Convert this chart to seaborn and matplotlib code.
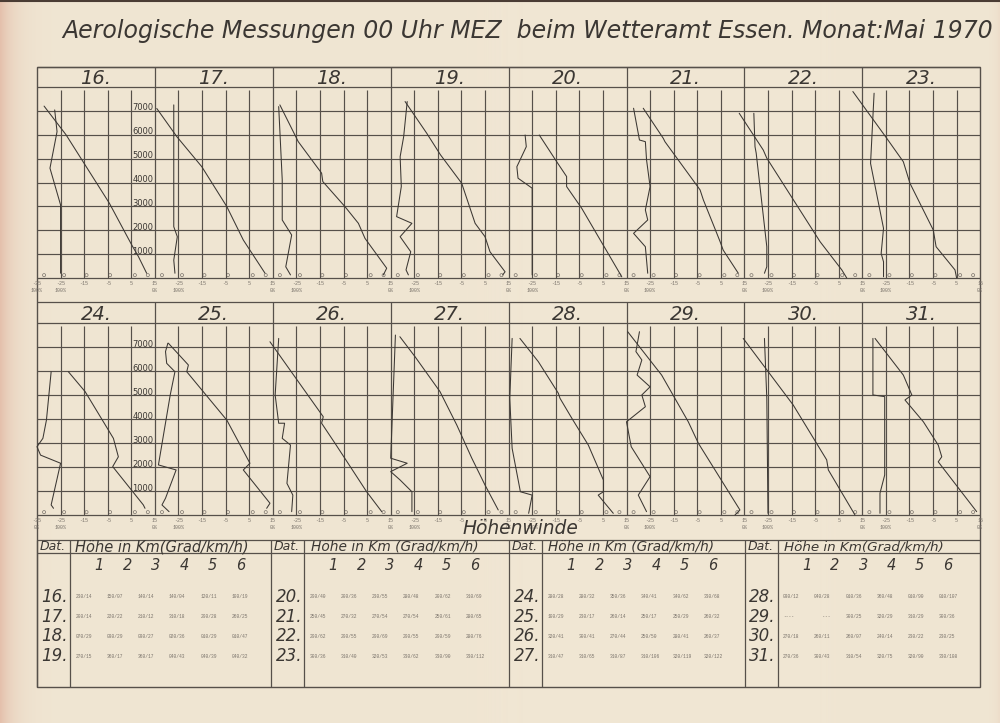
import numpy as np
import pandas as pd
import matplotlib
matplotlib.use("Agg")
import matplotlib.pyplot as plt
import seaborn as sns

# ---------------- data ----------------
TITLE = "Aerologische Messungen 00 Uhr MEZ  beim Wetteramt Essen. Monat:Mai 1970"
DAYS = list(range(16, 32))

# temperature profiles (deg C) and their heights (m), surface -> top
temp_16 = [11.5, 8.0, 5.2, -4.3, -22.7, -32.0]
temp_h_16 = [200, 900, 1380, 3130, 6000, 7200]
temp_17 = [11.7, 2.5, -4.5, -15.1, -25.7, -34.2]
temp_h_17 = [200, 1590, 2990, 4660, 5920, 7100]
temp_18 = [11.9, 13.3, 4.1, 1.3, -4.4, -13.8, -14.3, -24.2, -32.0]
temp_h_18 = [130, 410, 1660, 2290, 2990, 4040, 4390, 5710, 7250]
temp_19 = [12.5, 13.5, 7.1, 5.0, 0.8, -4.9, -13.9, -19.7, -28.9]
temp_h_19 = [130, 260, 1100, 1730, 2290, 3970, 5160, 6060, 7390]
temp_20 = [13.0, -4.0, -10.4, -10.4, -14.6, -22.0]
temp_h_20 = [50, 2920, 3830, 4250, 4870, 5990]
temp_21 = [12.4, 6.0, 4.7, 3.3, -2.4, -3.8, -18.7, -19.4, -27.9]
temp_h_21 = [200, 1170, 1520, 1870, 3270, 3690, 5710, 5850, 7110]
temp_22 = [8.4, 6.3, -2.9, -25.5, -27.0, -37.2]
temp_h_22 = [0, 340, 1520, 5020, 5360, 6900]
temp_23 = [5.0, 4.3, -3.7, -4.9, -14.8, -17.6, -24.7, -39.0]
temp_h_23 = [0, 340, 1310, 2010, 3970, 4870, 5860, 7810]
temp_24 = [10.8, 10.1, -2.9, -0.5, -2.6, -14.6, -21.7]
temp_h_24 = [280, 420, 2020, 2430, 3200, 5150, 5980]
temp_25 = [12.4, 13.8, 2.5, 5.3, -4.5, -21.5, -20.8, -29.3]
temp_h_25 = [280, 490, 1880, 2160, 3960, 5980, 6260, 7170]
temp_26 = [11.2, 4.8, -8.6, -14.3, -13.6, -36.2]
temp_h_26 = [140, 970, 2990, 3830, 4100, 7230]
temp_27 = [10.6, 5.0, 2.2, -0.6, -7.0, -14.1, -24.7, -31.1]
temp_h_27 = [210, 1250, 1810, 2370, 3760, 5150, 6610, 7440]
temp_28 = [9.4, 3.0, 5.2, 5.2, -1.2, -8.2, -13.2, -13.9, -22.4, -30.2]
temp_h_28 = [70, 830, 970, 1460, 2920, 4040, 4870, 5080, 6400, 7370]
temp_29 = [11.0, 13.1, -4.5, -8.8, -20.1, -34.5]
temp_h_29 = [0, 210, 2990, 3890, 5840, 7650]
temp_30 = [11.9, 0.6, -0.1, -14.3, -35.5]
temp_h_30 = [0, 1880, 2300, 4590, 7370]
temp_31 = [13.5, -2.8, -1.3, -2.8, -9.1, -16.9, -14.0, -17.6, -29.6]
temp_h_31 = [140, 2220, 2430, 2920, 3890, 4800, 5010, 5840, 7370]

# relative humidity profiles (%) and heights (m)
rh_16 = [80, 80, 89, 83, 85]
rh_h_16 = [200, 3060, 4600, 6130, 7040]
rh_17 = [83, 84, 81, 84, 84]
rh_h_17 = [200, 750, 1730, 2150, 7250]
rh_18 = [85, 89, 84, 92, 92, 95]
rh_h_18 = [130, 470, 1800, 2430, 4110, 7180]
rh_19 = [85, 87, 83, 92, 82, 95, 91, 92, 89, 86]
rh_h_19 = [130, 340, 1100, 1730, 2290, 2570, 3830, 5080, 5920, 7390]
rh_20 = [80, 80, 92, 93, 85, 86]
rh_h_20 = [130, 3760, 4180, 4660, 5500, 5990]
rh_21 = [82, 84, 94, 82, 84, 80, 83, 84, 89, 94]
rh_h_21 = [200, 1310, 1870, 2430, 2850, 3830, 4950, 5710, 5780, 7110]
rh_22 = [83, 81, 81, 90, 91, 92]
rh_h_22 = [200, 470, 1310, 5230, 5500, 6900]
rh_23 = [82, 82, 84, 82, 93, 90]
rh_h_23 = [50, 680, 1030, 2080, 4800, 7740]
rh_24 = [86, 88, 80, 97, 100, 95, 92, 88]
rh_h_24 = [280, 420, 2160, 2500, 2850, 3200, 3960, 5980]
rh_25 = [88, 94, 91, 82, 97, 87, 83, 90, 91, 89]
rh_h_25 = [140, 420, 700, 1880, 2090, 5010, 5980, 6330, 6820, 7170]
rh_26 = [84, 83, 88, 85, 92, 90, 95, 98, 95]
rh_h_26 = [140, 830, 1320, 2920, 3200, 3830, 3830, 5010, 7370]
rh_27 = [82, 82, 92, 100, 86, 100, 96]
rh_h_27 = [140, 970, 1460, 1810, 2160, 2370, 7510]
rh_28 = [83, 80, 90, 97, 99, 97]
rh_h_28 = [70, 830, 970, 2780, 4870, 7370]
rh_29 = [83, 90, 80, 96, 100, 84, 87, 80, 91, 87, 92, 89]
rh_h_29 = [140, 830, 1600, 2850, 3890, 4520, 5010, 5350, 5840, 6470, 6820, 7650]
rh_30 = [80, 81, 83]
rh_h_30 = [70, 4870, 7370]
rh_31 = [85, 85, 81, 81, 91, 91]
rh_h_31 = [70, 910, 1670, 4940, 5010, 7370]

# upper winds (direction / km/h) at 1..6 km
wind_16 = ["230/14", "150/07", "140/14", "140/04", "120/11", "100/19"]
wind_17 = ["200/14", "220/22", "210/12", "310/18", "290/28", "260/25"]
wind_18 = ["070/29", "030/29", "030/27", "020/36", "010/29", "010/47"]
wind_19 = ["270/15", "360/17", "360/17", "040/43", "040/39", "040/32"]
wind_20 = ["290/40", "200/36", "230/55", "280/48", "200/62", "310/69"]
wind_21 = ["250/45", "270/32", "270/54", "270/54", "250/61", "280/65"]
wind_22 = ["290/62", "290/55", "290/69", "290/55", "290/59", "280/76"]
wind_23 = ["300/36", "310/40", "320/53", "330/62", "330/90", "330/112"]
wind_24 = ["280/28", "280/32", "350/36", "340/41", "340/62", "330/68"]
wind_25 = ["100/29", "230/17", "260/14", "250/17", "250/29", "260/32"]
wind_26 = ["320/41", "300/41", "270/44", "250/50", "280/41", "260/37"]
wind_27 = ["310/47", "310/65", "310/87", "310/106", "320/119", "320/122"]
wind_28 = ["030/12", "040/28", "010/36", "360/48", "010/90", "010/107"]
wind_29 = ["----", "   ---", "300/25", "320/29", "310/29", "300/36"]
wind_30 = ["270/18", "260/11", "260/07", "240/14", "230/22", "230/25"]
wind_31 = ["270/36", "300/43", "310/54", "320/75", "320/90", "330/108"]

TEMP_TICKS = [-35, -25, -15, -5, 5, 15]
HEIGHT_TICKS = [1000, 2000, 3000, 4000, 5000, 6000, 7000]
ZERO_MARKS = [-32, -23.5, -14, -4, 6.5, 12]
ZERO_MARK_H = 120
LEVELS = ["1", "2", "3", "4", "5", "6"]

G = globals()
temps = {d: (G[f"temp_{d}"], G[f"temp_h_{d}"]) for d in DAYS}
hums = {d: (G[f"rh_{d}"], G[f"rh_h_{d}"]) for d in DAYS}
winds = {d: G[f"wind_{d}"] for d in DAYS}

# ---------------- style ----------------
W, H = 1000, 723
PAPER = "#f0e6d3"
LINE = "#56504a"
INK = "#3b3733"
TYPE = "#7a736b"
IT = dict(style="italic", family="DejaVu Sans", color=INK)

sns.set_theme(style="white")
plt.rcParams["font.family"] = ["DejaVu Sans"]

fig = plt.figure(figsize=(10, 7.23), dpi=100, facecolor=PAPER)
bg = fig.add_axes([0, 0, 1, 1])
bg.set_xlim(0, W)
bg.set_ylim(H, 0)
bg.axis("off")

# paper tint (pinkish left edge)
xs = np.arange(W)
wl = np.exp(-xs / 14.0) * 0.9
wr = np.exp(-(W - xs) / 5.0) * 0.25
w = np.clip(wl + wr, 0, 1)
c_pap = np.array(matplotlib.colors.to_rgb(PAPER))
c_pink = np.array(matplotlib.colors.to_rgb("#e3bca8"))
row = (1 - w)[:, None] * c_pap + w[:, None] * c_pink
bg.imshow(row[None, :, :], extent=[0, W, H, 0], aspect="auto", zorder=0)
bg.plot([0, W], [0.6, 0.6], color="#4a3c34", lw=1.5, zorder=1)

fig.canvas.draw()
renderer = fig.canvas.get_renderer()


def fit(t, width):
    bb = t.get_window_extent(renderer)
    t.set_fontsize(t.get_fontsize() * width / bb.width)


def hline(y, x0, x1, lw=0.9):
    bg.plot([x0, x1], [y, y], color=LINE, lw=lw, solid_capstyle="butt", zorder=2)


def vline(x, y0, y1, lw=0.9):
    bg.plot([x, x], [y0, y1], color=LINE, lw=lw, solid_capstyle="butt", zorder=2)


# title
t = bg.text(528, 31, TITLE, ha="center", va="center", fontsize=17, zorder=3, **IT)
fit(t, 933)

# frame geometry
X0, PW = 37.0, 117.9
X1 = X0 + 8 * PW
ROW_BOTTOM = [278.0, 515.0]
PX_KM = [23.875, 23.96]
HEAD_TOP = [67.0, 302.0]

bg.add_patch(plt.Rectangle((X0, 67), X1 - X0, 687 - 67, fill=False,
                           edgecolor=LINE, lw=1.0, zorder=2))
for r in range(2):
    yb = ROW_BOTTOM[r]
    ytop8 = yb - 8 * PX_KM[r]
    hline(HEAD_TOP[r], X0, X1)
    hline(ytop8, X0, X1)
    hline(yb, X0, X1)
    for c in range(1, 8):
        vline(X0 + c * PW, HEAD_TOP[r], yb)

# table lines
hline(540, X0, X1)
hline(553, X0, X1)
BLOCK_X = [37.0, 271.0, 509.0, 744.5]
for bx in BLOCK_X:
    vline(bx, 540, 687)
    vline(bx + 33, 540, 687)

# panels
for i, day in enumerate(DAYS):
    r, c = divmod(i, 8)
    x0 = X0 + c * PW
    yb = ROW_BOTTOM[r]
    yt = yb - 8 * PX_KM[r]
    ax = fig.add_axes([x0 / W, 1 - yb / H, PW / W, (yb - yt) / H])
    ax.set_xlim(-35, 15)
    ax.set_ylim(0, 8000)
    ax.patch.set_alpha(0)
    ax.axis("off")
    ax.hlines(HEIGHT_TICKS, -35, 15, color=LINE, lw=0.85)
    ax.vlines(TEMP_TICKS[1:-1], 0, 7880, color=LINE, lw=0.85)

    tv, th = temps[day]
    dft = pd.DataFrame({"T": tv, "h": th})
    sns.lineplot(data=dft, x="T", y="h", sort=False, estimator=None, ax=ax,
                 color=INK, lw=0.75, clip_on=False)
    rv, rhh = hums[day]
    dfh = pd.DataFrame({"x": [15 - v / 2.0 for v in rv], "h": rhh})
    sns.lineplot(data=dfh, x="x", y="h", sort=False, estimator=None, ax=ax,
                 color=INK, lw=0.75, clip_on=False)
    ax.scatter(ZERO_MARKS, [ZERO_MARK_H] * len(ZERO_MARKS), s=5, marker="o",
               facecolors="none", edgecolors=TYPE, linewidths=0.5, clip_on=False)

    # header number
    bg.text(x0 + PW / 2, (HEAD_TOP[r] + yt) / 2 + 1.5, f"{day}.", ha="center",
            va="center", fontsize=14, zorder=3, **IT)

    # temperature tick labels
    ticks = TEMP_TICKS if c == 0 else TEMP_TICKS[1:]
    for tk in ticks:
        px = x0 + (tk + 35) / 50 * PW
        bg.text(px, yb + 5.5, str(tk), ha="center", va="center", fontsize=3.6,
                family="Liberation Mono", color=TYPE, zorder=3)
    hum_lab = [(-25, "100%"), (15, "0%")]
    if c == 0:
        hum_lab = [(-35, "100%" if r == 0 else "0%")] + hum_lab
    for tk, lab in hum_lab:
        px = x0 + (tk + 35) / 50 * PW
        bg.text(px, yb + 12.5, lab, ha="center", va="center", fontsize=3.6,
                family="Liberation Mono", color=TYPE, zorder=3)

# height labels on panels 17 and 25
for r in range(2):
    for hv in HEIGHT_TICKS:
        y = ROW_BOTTOM[r] - hv / 1000 * PX_KM[r] - 3
        bg.text(X0 + PW - 1.5, y, str(hv), ha="right", va="center",
                fontsize=6, color=INK, zorder=3)

t = bg.text(520, 529, "Höhenwinde", ha="center", va="center", fontsize=13,
            zorder=3, **IT)
fit(t, 116)

# wind table
HEAD_TXT = ["Höhe in Km(Grad/km/h)", "Höhe in Km (Grad/km/h)",
            "Höhe in Km (Grad/km/h)", "Höhe in Km(Grad/km/h)"]
HEAD_W = [173, 167, 165, 159]
ROW_Y = [597, 617, 636, 656]
for b, bx in enumerate(BLOCK_X):
    bg.text(bx + 3, 546.5, "Dat.", ha="left", va="center", fontsize=9,
            zorder=3, **IT)
    t = bg.text(bx + 33 + (HEAD_W[b] / 2) + 5 + (2 if b else 0), 546.5,
                HEAD_TXT[b], ha="center", va="center", fontsize=10, zorder=3, **IT)
    fit(t, HEAD_W[b])
    for k, lv in enumerate(LEVELS):
        bg.text(bx + 62 + 28.3 * k, 565, lv, ha="center", va="center",
                fontsize=10.5, zorder=3, **IT)
    for j in range(4):
        day = DAYS[b * 4 + j]
        bg.text(bx + 31, ROW_Y[j], f"{day}.", ha="right", va="center",
                fontsize=12, zorder=3, **IT)
        for k, val in enumerate(winds[day]):
            bg.text(bx + 38.5 + 31.2 * k, ROW_Y[j], val, ha="left", va="center",
                    fontsize=3.3, family="Liberation Mono", color=TYPE, zorder=3)

fig.savefig("out.png", dpi=100, facecolor=PAPER)
